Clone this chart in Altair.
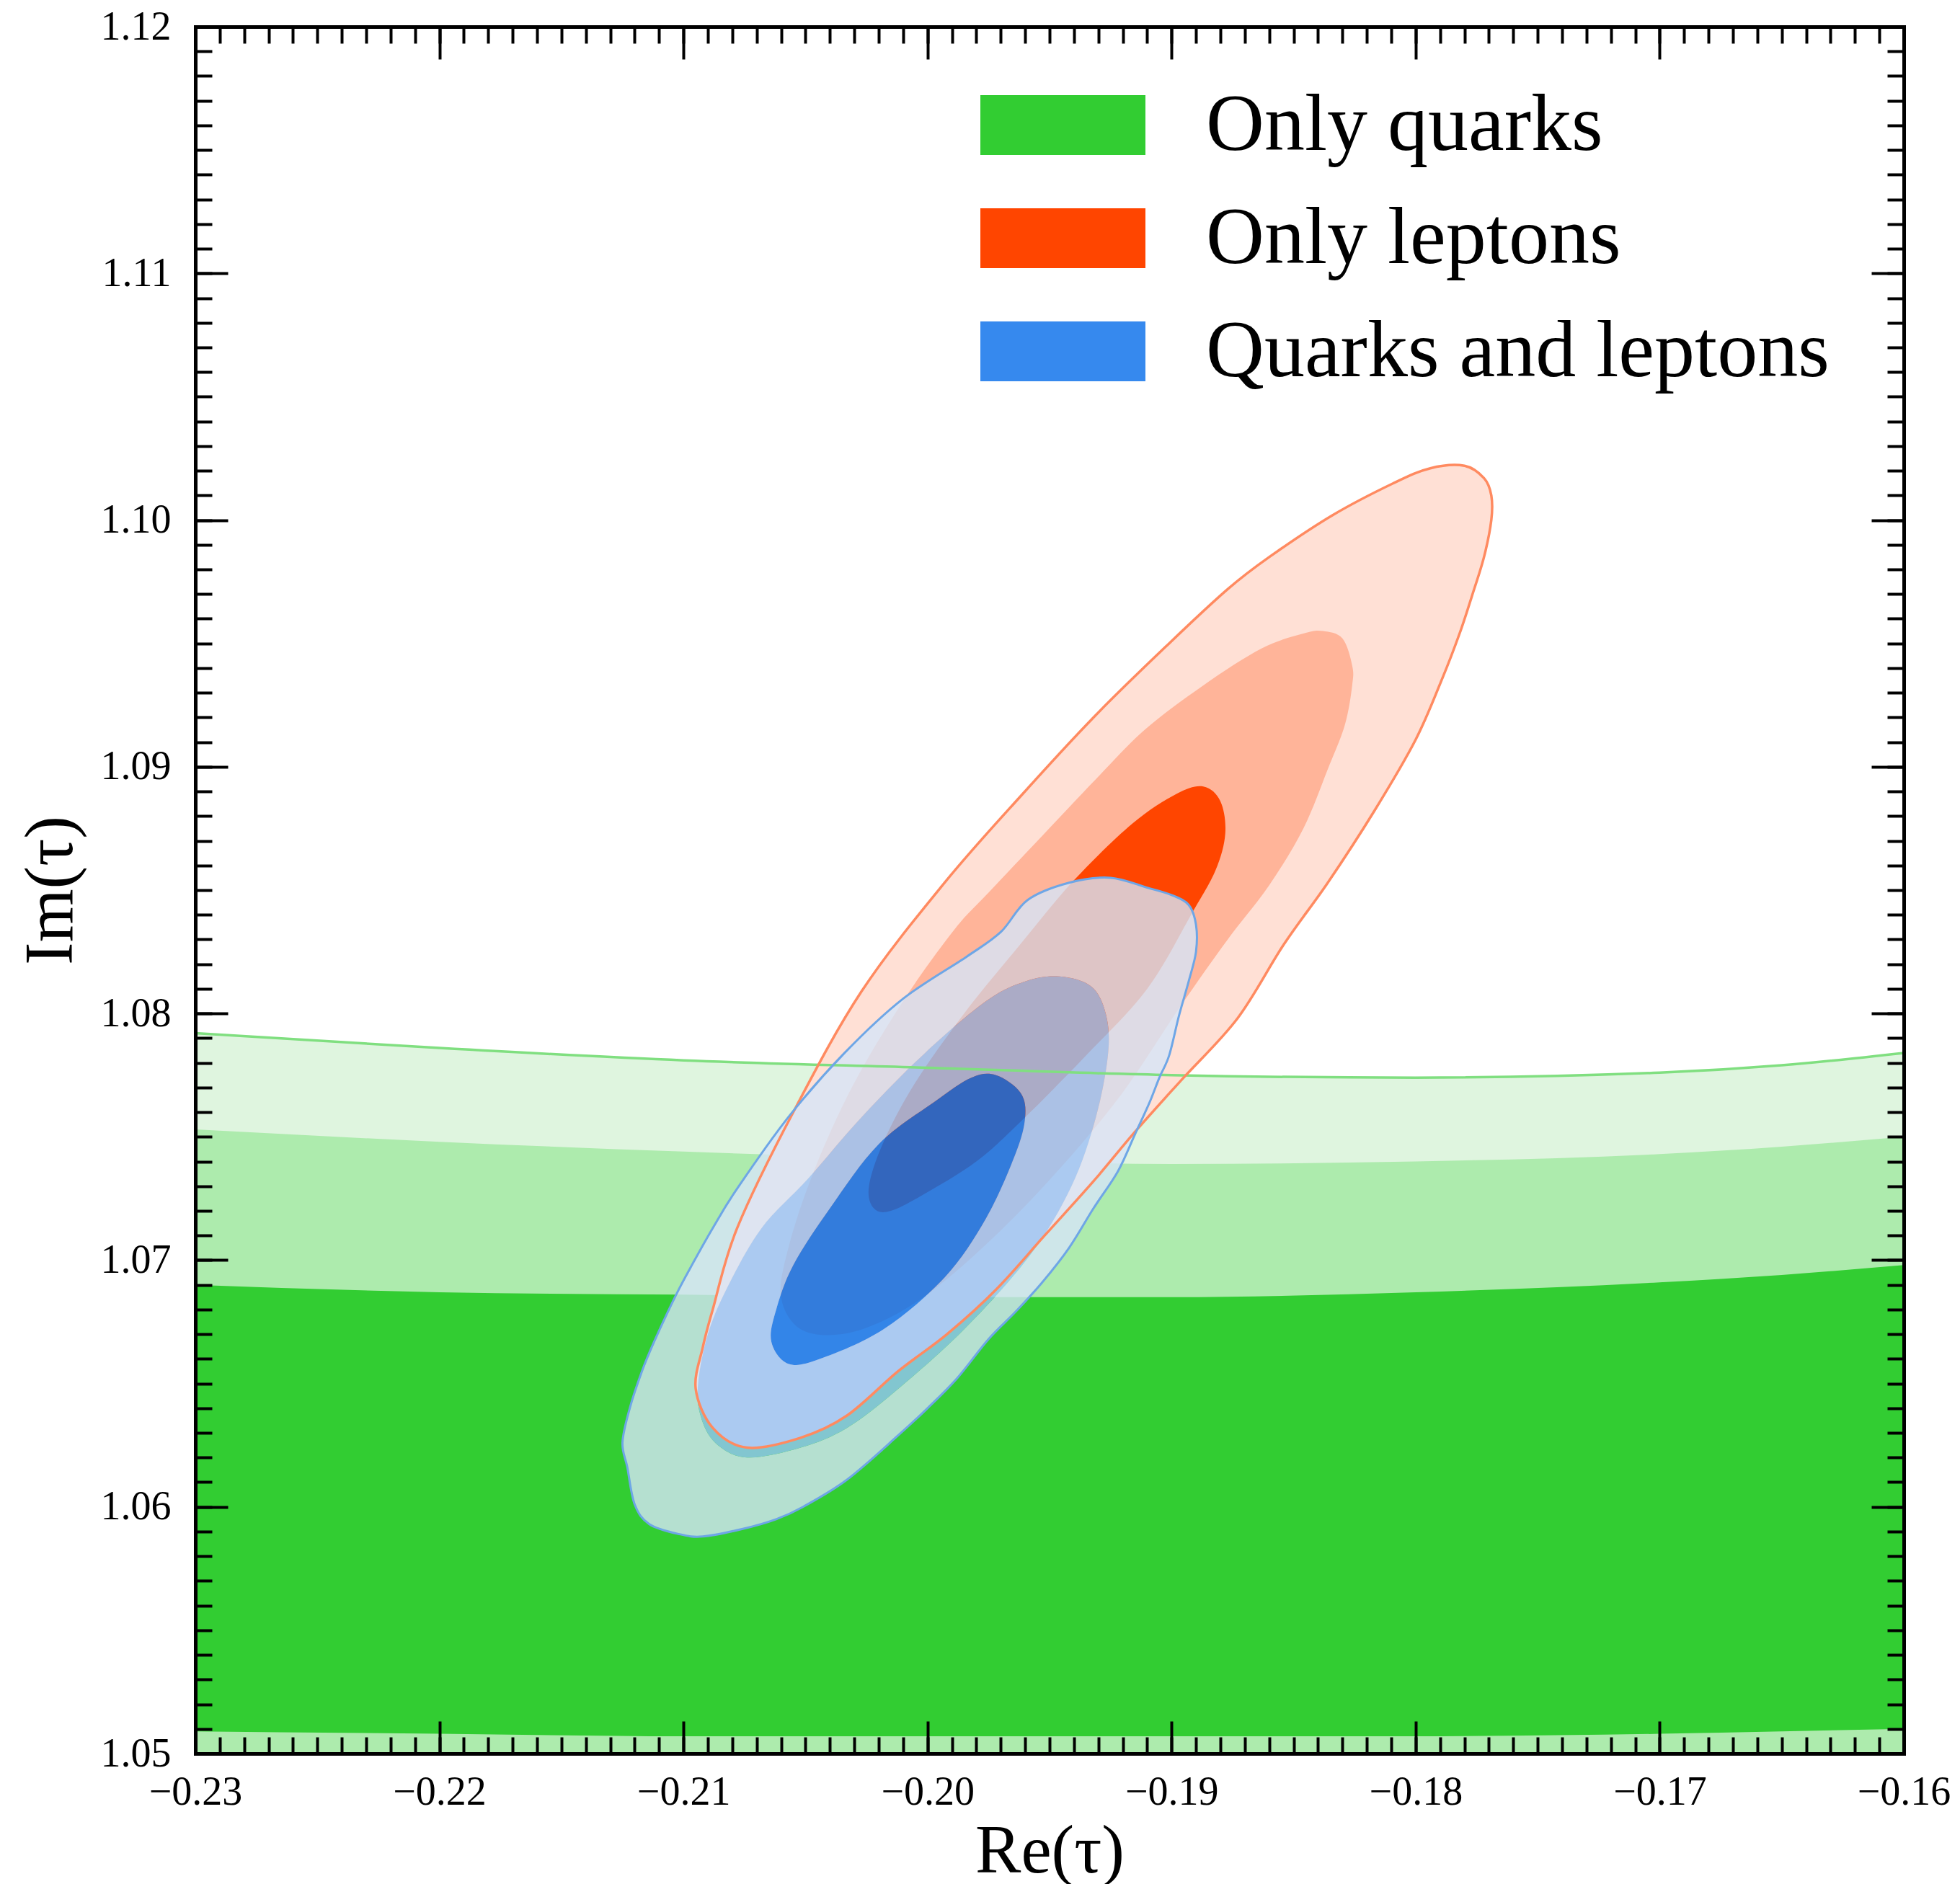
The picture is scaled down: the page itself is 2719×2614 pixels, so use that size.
import altair as alt
import pandas as pd

# ---------------- axes ----------------
X_DOMAIN = [-0.23, -0.16]
Y_DOMAIN = [1.05, 1.12]
X_TICKS = [-0.23, -0.22, -0.21, -0.20, -0.19, -0.18, -0.17, -0.16]
Y_TICKS = [1.05, 1.06, 1.07, 1.08, 1.09, 1.10, 1.11, 1.12]
X_MINOR = [round(-0.23 + 0.001 * i, 3) for i in range(71)]
Y_MINOR = [round(1.05 + 0.001 * i, 3) for i in range(71)]

# ---------------- Only quarks (bands across the whole range) ----------------
GREEN_X = [-0.23, -0.22, -0.21, -0.20, -0.19, -0.18, -0.17, -0.165, -0.16]
GREEN_LIGHT_TOP = [1.0792, 1.0786, 1.0781, 1.0778, 1.0775, 1.0774, 1.0776, 1.0779, 1.0784]
GREEN_MED_TOP = [1.0753, 1.0748, 1.0744, 1.0741, 1.0739, 1.0740, 1.0743, 1.0746, 1.0750]
GREEN_DARK_TOP = [1.0690, 1.0687, 1.0686, 1.0685, 1.0685, 1.0687, 1.0691, 1.0694, 1.0698]
GREEN_DARK_BOT = [1.0509, 1.0508, 1.0507, 1.0507, 1.0507, 1.0507, 1.0508, 1.0509, 1.0510]

# ---------------- Only leptons (closed contours) ----------------
ORANGE_OUTER_X = [-0.1780, -0.1772, -0.1769, -0.1769, -0.1772, -0.1777, -0.1782, -0.1789, -0.1800,
                  -0.1817, -0.1836, -0.1854, -0.1873, -0.1896, -0.1915, -0.1932, -0.1952, -0.1972,
                  -0.1992, -0.2012, -0.2033, -0.2052, -0.2074, -0.2088, -0.2095, -0.2092, -0.2088,
                  -0.2078, -0.2055, -0.2027, -0.1993, -0.1961, -0.1931, -0.1901, -0.1877, -0.1860,
                  -0.1834, -0.1809, -0.1794]
ORANGE_OUTER_Y = [1.1022, 1.1017, 1.1010, 1.1000, 1.0985, 1.0969, 1.0954, 1.0936, 1.0911,
                  1.0882, 1.0853, 1.0828, 1.0798, 1.0773, 1.0752, 1.0732, 1.0710, 1.0688,
                  1.0670, 1.0655, 1.0637, 1.0628, 1.0624, 1.0632, 1.0648, 1.0665, 1.0680,
                  1.0713, 1.0760, 1.0809, 1.0853, 1.0889, 1.0921, 1.0950, 1.0972, 1.0985,
                  1.1002, 1.1015, 1.1021]
ORANGE_MID_X = [-0.1838, -0.1830, -0.1826, -0.1826, -0.1829, -0.1836, -0.1846, -0.1860, -0.1877,
                -0.1897, -0.1920, -0.1945, -0.1970, -0.1995, -0.2015, -0.2035, -0.2052, -0.2060,
                -0.2057, -0.2047, -0.2031, -0.2010, -0.1989, -0.1975, -0.1953, -0.1931, -0.1911,
                -0.1887, -0.1863, -0.1846]
ORANGE_MID_Y = [1.0955, 1.0952, 1.0941, 1.0933, 1.0917, 1.0899, 1.0875, 1.0852, 1.0830,
                1.0802, 1.0768, 1.0738, 1.0712, 1.0690, 1.0677, 1.0670, 1.0672, 1.0685,
                1.0705, 1.0735, 1.0770, 1.0805, 1.0834, 1.0849, 1.0872, 1.0895, 1.0915,
                1.0933, 1.0948, 1.0954]
ORANGE_IN_X = [-0.1887, -0.1880, -0.1878, -0.1882, -0.1892, -0.1910, -0.1935, -0.1962, -0.1980,
               -0.2001, -0.2015, -0.2022, -0.2024, -0.2018, -0.2005, -0.1985, -0.1962, -0.1940,
               -0.1916, -0.1898]
ORANGE_IN_Y = [1.0892, 1.0886, 1.0873, 1.0858, 1.0840, 1.0810, 1.0783, 1.0756, 1.0740,
               1.0727, 1.0720, 1.0721, 1.0730, 1.0748, 1.0772, 1.0800, 1.0828, 1.0854,
               1.0877, 1.0889]

# ---------------- Quarks and leptons (closed contours) ----------------
BLUE_OUTER_X = [-0.1925, -0.1910, -0.1900, -0.1893, -0.1890, -0.1890, -0.1893, -0.1897, -0.1901,
                -0.1905, -0.1909, -0.1915, -0.1922, -0.1932, -0.1942, -0.1953, -0.1964, -0.1975,
                -0.1988, -0.2000, -0.2012, -0.2033, -0.2051, -0.2062, -0.2076, -0.2092, -0.2102,
                -0.2114, -0.2120, -0.2123, -0.2125, -0.2122, -0.2117, -0.2112, -0.2103, -0.2096,
                -0.2088, -0.2078, -0.2057, -0.2034, -0.2010, -0.1984, -0.1970, -0.1959, -0.1942]
BLUE_OUTER_Y = [1.0855, 1.0851, 1.0848, 1.0844, 1.0836, 1.0825, 1.0813, 1.0799, 1.0783,
                1.0774, 1.0764, 1.0751, 1.0736, 1.0721, 1.0705, 1.0691, 1.0679, 1.0668,
                1.0652, 1.0640, 1.0629, 1.0611, 1.0600, 1.0595, 1.0591, 1.0588, 1.0589,
                1.0593, 1.0601, 1.0616, 1.0626, 1.0640, 1.0655, 1.0667, 1.0686, 1.0699,
                1.0713, 1.0729, 1.0758, 1.0784, 1.0806, 1.0823, 1.0833, 1.0846, 1.0853]
BLUE_MID_X = [-0.1946, -0.1933, -0.1927, -0.1926, -0.1931, -0.1941, -0.1958, -0.1985, -0.2013,
              -0.2033, -0.2052, -0.2074, -0.2087, -0.2093, -0.2094, -0.2090, -0.2082, -0.2068,
              -0.2049, -0.2027, -0.2001, -0.1976, -0.1960]
BLUE_MID_Y = [1.0815, 1.0811, 1.0800, 1.0784, 1.0758, 1.0730, 1.0702, 1.0672, 1.0647,
              1.0632, 1.0624, 1.0620, 1.0626, 1.0637, 1.0650, 1.0670, 1.0689, 1.0713,
              1.0733, 1.0758, 1.0784, 1.0805, 1.0813]
BLUE_IN_X = [-0.1972, -0.1962, -0.1960, -0.1964, -0.1976, -0.1993, -0.2018, -0.2044, -0.2057,
             -0.2064, -0.2062, -0.2055, -0.2040, -0.2020, -0.1996, -0.1982]
BLUE_IN_Y = [1.0775, 1.0768, 1.0758, 1.0743, 1.0717, 1.0693, 1.0672, 1.0660, 1.0658,
             1.0667, 1.0680, 1.0698, 1.0721, 1.0747, 1.0765, 1.0774]

LEGEND_LABELS = ["Only quarks", "Only leptons", "Quarks and leptons"]
LEGEND_COLORS = ["#32CD32", "#FF4500", "#3689EE"]

# ---------------- styling ----------------
FONT = "Liberation Serif"
W, H = 2370, 2396
XS = alt.Scale(domain=X_DOMAIN, nice=False, zero=False)
YS = alt.Scale(domain=Y_DOMAIN, nice=False, zero=False)


def xenc(axis=None, field="x"):
    return alt.X(f"{field}:Q", scale=XS, axis=axis)


def yenc(axis=None, field="y"):
    return alt.Y(f"{field}:Q", scale=YS, axis=axis)


def tick_axis(orient, offset, values, size, domain=False):
    return alt.Axis(orient=orient, offset=offset, values=values, tickSize=size, tickWidth=4,
                    tickColor="black", labels=False, domain=domain, domainColor="black",
                    domainWidth=5, domainCap="square", grid=False, title=None, zindex=2)


x_label_axis = alt.Axis(orient="bottom", values=X_TICKS, format=".2f", labelFont=FONT,
                        labelFontSize=56, labelColor="black", labelPadding=26, labelFlush=False,
                        labelOverlap=False, ticks=False, tickSize=0, domain=True,
                        domainColor="black", domainWidth=5, domainCap="square", grid=False,
                        title="Re(τ)", titleFont=FONT, titleFontSize=95,
                        titleFontWeight="normal", titleColor="black", titlePadding=8, zindex=2)
y_label_axis = alt.Axis(orient="left", values=Y_TICKS, format=".2f", labelFont=FONT,
                        labelFontSize=56, labelColor="black", labelPadding=34, labelFlush=False,
                        labelOverlap=False, ticks=False, tickSize=0, domain=True,
                        domainColor="black", domainWidth=5, domainCap="square", grid=False,
                        title="Im(τ)", titleFont=FONT, titleFontSize=95,
                        titleFontWeight="normal", titleColor="black", titlePadding=20, zindex=2)


def poly_df(ox, oy, hx=None, hy=None):
    rows = [{"x": a, "y": b} for a, b in zip(ox, oy)]
    if hx is not None:
        rows.append({"x": None, "y": None})
        rows += [{"x": a, "y": b} for a, b in zip(reversed(hx), reversed(hy))]
    df = pd.DataFrame(rows)
    df["o"] = range(len(df))
    return df


def fill_layer(df, color, opacity, xaxis=None, yaxis=None):
    return alt.Chart(df).mark_line(interpolate="cardinal-closed", fill=color,
                                   fillOpacity=opacity, strokeWidth=0,
                                   strokeOpacity=0).encode(
        x=xenc(xaxis), y=yenc(yaxis), order="o:Q")


def outline_layer(ox, oy, color, width):
    return alt.Chart(poly_df(ox, oy)).mark_line(interpolate="cardinal-closed", color=color,
                                               strokeWidth=width).encode(
        x=xenc(), y=yenc(), order="o:Q")


green_df = pd.DataFrame({"x": GREEN_X, "light": GREEN_LIGHT_TOP, "med": GREEN_MED_TOP,
                         "dtop": GREEN_DARK_TOP, "dbot": GREEN_DARK_BOT,
                         "base": [Y_DOMAIN[0]] * len(GREEN_X)})

g_light = alt.Chart(green_df).mark_area(interpolate="monotone", color="#DFF5DF").encode(
    x=xenc(x_label_axis), y=yenc(y_label_axis, "light"), y2="base:Q")
g_med = alt.Chart(green_df).mark_area(interpolate="monotone", color="#ADEBAD").encode(
    x=xenc(tick_axis("top", -H, X_TICKS, 45)), y=yenc(tick_axis("right", -W, Y_TICKS, 45), "med"),
    y2="base:Q")
g_dark = alt.Chart(green_df).mark_area(interpolate="monotone", color="#32CD32").encode(
    x=xenc(tick_axis("top", -H, X_MINOR, 23)), y=yenc(tick_axis("right", -W, Y_MINOR, 23), "dtop"),
    y2="dbot:Q")
g_line = alt.Chart(green_df).mark_line(interpolate="monotone", color="#80DF80",
                                       strokeWidth=3.5).encode(x=xenc(), y=yenc(None, "light"))

o_outer = fill_layer(poly_df(ORANGE_OUTER_X, ORANGE_OUTER_Y), "#FFE0D5", 1,
                     tick_axis("bottom", -H, X_TICKS, 45, True),
                     tick_axis("left", -W, Y_TICKS, 45, True))
o_mid = fill_layer(poly_df(ORANGE_MID_X, ORANGE_MID_Y), "#FFB499", 1,
                   tick_axis("bottom", -H, X_MINOR, 23), tick_axis("left", -W, Y_MINOR, 23))
o_in = fill_layer(poly_df(ORANGE_IN_X, ORANGE_IN_Y), "#FF4500", 1)

b_outer = fill_layer(poly_df(BLUE_OUTER_X, BLUE_OUTER_Y, BLUE_MID_X, BLUE_MID_Y), "#D6E5F7", 0.8)
b_mid = fill_layer(poly_df(BLUE_MID_X, BLUE_MID_Y, BLUE_IN_X, BLUE_IN_Y), "#96C4F7", 0.8)
b_in = fill_layer(poly_df(BLUE_IN_X, BLUE_IN_Y), "#006EEC", 0.8)

o_line = outline_layer(ORANGE_OUTER_X, ORANGE_OUTER_Y, "#FF8A60", 3.5)
b_line = outline_layer(BLUE_OUTER_X, BLUE_OUTER_Y, "#6EA6E6", 3)

legend_layer = alt.Chart(pd.DataFrame({"name": LEGEND_LABELS})).mark_point(
    filled=True, opacity=0).encode(
    color=alt.Color("name:N", scale=alt.Scale(domain=LEGEND_LABELS, range=LEGEND_COLORS),
                    legend=alt.Legend(title=None, orient="none", legendX=1089, legendY=95,
                                      symbolType="M-1,-0.3624H1V0.3624H-1Z", symbolSize=52441,
                                      symbolStrokeWidth=0, symbolOpacity=1, labelFont=FONT,
                                      labelFontSize=112, labelColor="black", labelLimit=3000,
                                      labelOffset=84, clipHeight=83, rowPadding=44, padding=0)))

chart = alt.layer(g_light, g_med, g_dark, o_outer, o_mid, o_in, b_outer, b_mid, b_in,
                  g_line, o_line, b_line, legend_layer).resolve_axis(
    x="independent", y="independent").properties(
    width=W, height=H, padding={"left": 23, "top": 9, "right": 10, "bottom": 10}
).configure_view(strokeWidth=0)

chart.save("out.html", embed_options={"renderer": "svg", "actions": False})
